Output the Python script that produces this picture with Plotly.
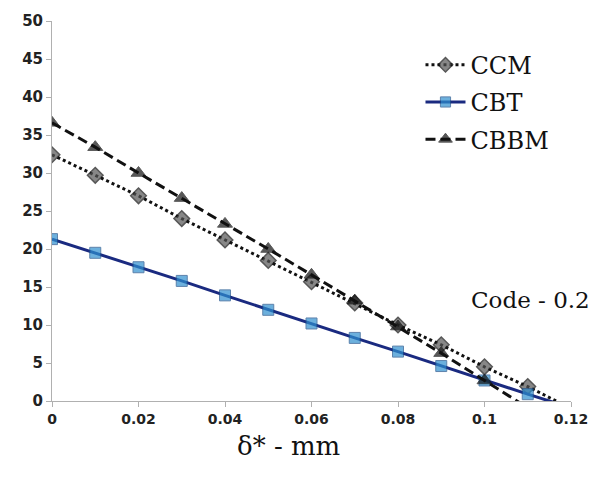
import plotly.graph_objects as go

x_vals = [0, 0.01, 0.02, 0.03, 0.04, 0.05, 0.06, 0.07, 0.08, 0.09, 0.10, 0.11, 0.12]
ccm = [32.4, 29.7, 27.0, 24.0, 21.2, 18.5, 15.7, 12.9, 10.0, 7.4, 4.5, 1.9, -1.0]
cbt = [21.3, 19.5, 17.6, 15.8, 13.9, 12.0, 10.2, 8.3, 6.5, 4.6, 2.7, 0.9, -0.9]
cbbm = [36.6, 33.4, 30.0, 26.7, 23.3, 20.0, 16.6, 13.2, 9.8, 6.3, 2.7, -0.9]
cbbm_x = x_vals[:12]

y_ticks = [0, 5, 10, 15, 20, 25, 30, 35, 40, 45, 50]
x_ticks = [0, 0.02, 0.04, 0.06, 0.08, 0.1, 0.12]
x_tick_text = ["0", "0.02", "0.04", "0.06", "0.08", "0.1", "0.12"]

SERIF = "DejaVu Serif"

def sizes(n, s):
    return [s] * (n - 1) + [0]

fig = go.Figure()
fig.add_trace(go.Scatter(
    x=x_vals, y=ccm, name="CCM", mode="lines+markers", legendgroup="a",
    line=dict(color="#111111", width=3, dash="dot"),
    marker=dict(symbol="diamond", size=sizes(len(ccm), 12), color="#555555",
                line=dict(color="#111111", width=1.5)),
))
fig.add_trace(go.Scatter(
    x=x_vals, y=cbt, name="CBT", mode="lines+markers", legendgroup="b",
    line=dict(color="#1a2a80", width=3),
    marker=dict(symbol="square", size=sizes(len(cbt), 11), color="#2f8fcf",
                line=dict(color="#1a4f8a", width=1)),
))
fig.add_trace(go.Scatter(
    x=cbbm_x, y=cbbm, name="CBBM", mode="lines+markers", legendgroup="c",
    line=dict(color="#111111", width=3, dash="10px,5px"),
    marker=dict(symbol="triangle-up", size=sizes(len(cbbm), 13), color="#111111",
                line=dict(color="#111111", width=1)),
))

fig.add_annotation(
    text="Code - 0.2", xref="paper", yref="paper", x=1.04, y=0.265,
    xanchor="right", yanchor="middle", showarrow=False,
    font=dict(family=SERIF, size=23, color="#111111"),
)
fig.add_annotation(
    text="δ* - mm", xref="paper", yref="paper", x=0.455, y=-0.118,
    xanchor="center", yanchor="middle", showarrow=False,
    font=dict(family=SERIF, size=26, color="#111111"),
)

fig.update_layout(
    width=600, height=480,
    margin=dict(l=52, r=23, t=16, b=79),
    paper_bgcolor="white", plot_bgcolor="white",
    showlegend=True,
    legend=dict(
        x=0.71, y=0.943, xanchor="left", yanchor="top",
        font=dict(family=SERIF, size=24, color="#111111"),
        bgcolor="rgba(0,0,0,0)", itemwidth=40,
        traceorder="grouped", tracegroupgap=3,
    ),
    xaxis=dict(
        range=[0, 0.12], tickvals=x_ticks, ticktext=x_tick_text,
        showgrid=False, zeroline=False, showline=True, linecolor="#b0b0b0", linewidth=1,
        ticks="outside", ticklen=5, tickcolor="#b0b0b0",
        tickfont=dict(family="DejaVu Sans", size=14, color="#222222", weight="bold"),
    ),
    yaxis=dict(
        range=[0, 50], tickvals=y_ticks,
        showgrid=False, zeroline=False, showline=True, linecolor="#b0b0b0", linewidth=1,
        ticks="outside", ticklen=5, tickcolor="#b0b0b0",
        tickfont=dict(family="DejaVu Sans", size=15, color="#222222", weight="bold"),
    ),
)

fig.write_html("out.html")
